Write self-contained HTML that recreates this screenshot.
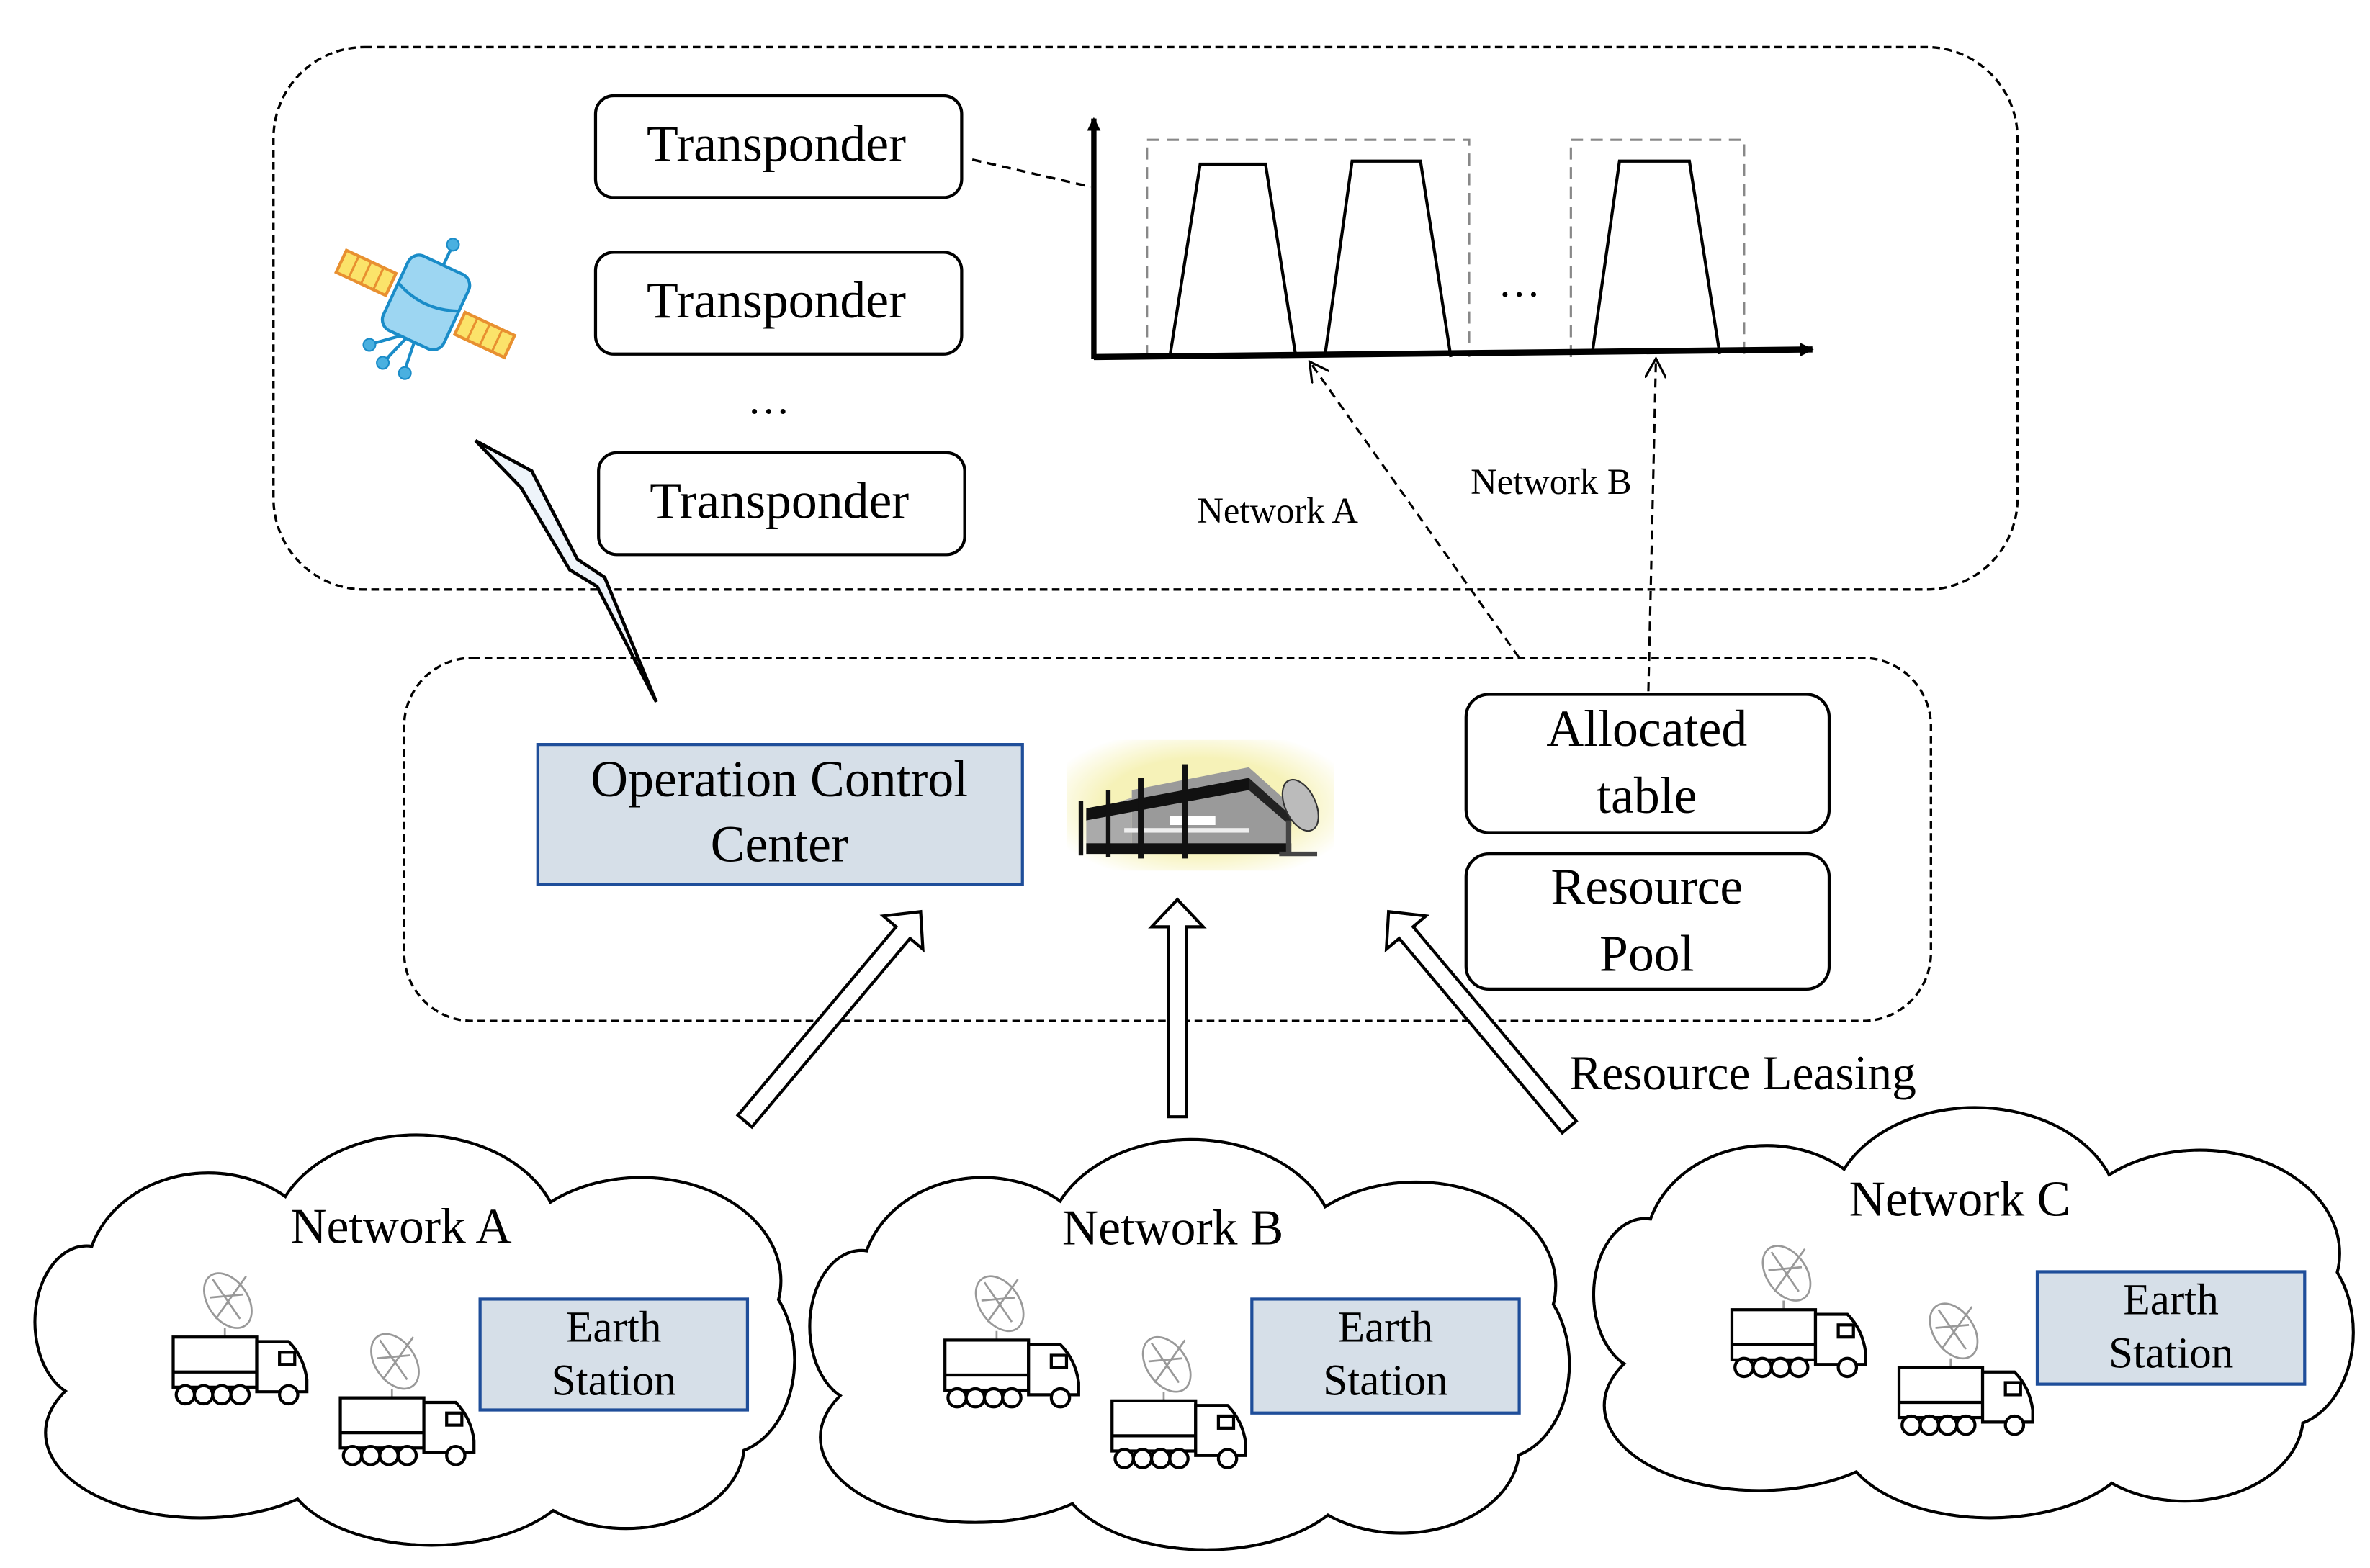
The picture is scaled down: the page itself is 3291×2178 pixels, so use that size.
<!DOCTYPE html>
<html><head><meta charset="utf-8"><style>
html,body{margin:0;padding:0;background:#fff;}
svg{display:block;}
text{font-family:"Liberation Serif",serif;fill:#000;}
</style></head><body>
<svg width="3291" height="2178" viewBox="0 0 1560 1032" preserveAspectRatio="none" xmlns="http://www.w3.org/2000/svg">
<defs>
<marker id="ah" viewBox="0 0 10 10" refX="9" refY="5" markerWidth="9" markerHeight="9" orient="auto" markerUnits="userSpaceOnUse">
<path d="M0,0 L10,5 L0,10 z" fill="#000"/></marker>
<marker id="oa" viewBox="0 0 12 12" refX="11" refY="6" markerWidth="14" markerHeight="14" orient="auto" markerUnits="userSpaceOnUse">
<path d="M0,0 L11,6 L0,12" fill="none" stroke="#000" stroke-width="1.3"/></marker>
<radialGradient id="glow" cx="0.5" cy="0.5" r="0.6"><stop offset="0.6" stop-color="#f6f2b8"/><stop offset="1" stop-color="#fff"/></radialGradient>
<g id="cloudS" fill="#fff" stroke="#000" stroke-width="2">
<ellipse cx="45" cy="125" rx="34" ry="50"/>
<ellipse cx="125" cy="95" rx="80" ry="68"/>
<ellipse cx="262" cy="72" rx="95" ry="70"/>
<ellipse cx="410" cy="98" rx="92" ry="68"/>
<ellipse cx="465" cy="150" rx="46" ry="62"/>
<ellipse cx="400" cy="205" rx="78" ry="56"/>
<ellipse cx="272" cy="218" rx="98" ry="54"/>
<ellipse cx="120" cy="198" rx="102" ry="56"/>
</g>
<g id="cloudF" fill="#fff" stroke="none">
<ellipse cx="45" cy="125" rx="33" ry="49"/>
<ellipse cx="125" cy="95" rx="79" ry="67"/>
<ellipse cx="262" cy="72" rx="94" ry="69"/>
<ellipse cx="410" cy="98" rx="91" ry="67"/>
<ellipse cx="465" cy="150" rx="45" ry="61"/>
<ellipse cx="400" cy="205" rx="77" ry="55"/>
<ellipse cx="272" cy="218" rx="97" ry="53"/>
<ellipse cx="120" cy="198" rx="101" ry="55"/>
<ellipse cx="260" cy="145" rx="210" ry="85"/>
</g>
<g id="truck">
<g fill="none" stroke="#999" stroke-width="1.3">
<ellipse cx="38" cy="18" rx="13" ry="20" transform="rotate(-35 38 18)"/>
<path d="M28,4 L46,30 M50,2 L30,30 M26,16 L48,14 M36,36 L36,42"/>
</g>
<g fill="#fff" stroke="#000" stroke-width="2">
<rect x="2" y="42" width="55" height="33"/>
<path d="M57,45 L78,45 Q88,55 90,70 L90,78 L57,78 z"/>
<rect x="72" y="52" width="10" height="8"/>
<line x1="2" y1="65" x2="57" y2="65"/>
<circle cx="10" cy="80" r="6"/><circle cx="22" cy="80" r="6"/><circle cx="34" cy="80" r="6"/><circle cx="46" cy="80" r="6"/><circle cx="78" cy="80" r="6"/>
</g></g>
</defs>

<rect x="180" y="31" width="1148" height="357" rx="60" fill="none" stroke="#000" stroke-width="1.6" stroke-dasharray="5,3"/>
<g fill="#fff" stroke="#000" stroke-width="2">
<rect x="392" y="63" width="241" height="67" rx="12"/>
<rect x="392" y="166" width="241" height="67" rx="12"/>
<rect x="394" y="298" width="241" height="67" rx="12"/>
</g>
<g font-size="34" text-anchor="middle">
<text x="511" y="106">Transponder</text>
<text x="511" y="209">Transponder</text>
<text x="513" y="341">Transponder</text>
</g>
<text x="506" y="272" font-size="28" text-anchor="middle">…</text>

<g transform="translate(280,200) rotate(25)">
<rect x="-62" y="-10" width="36" height="16" fill="#fbe36a" stroke="#e89030" stroke-width="2"/>
<path d="M-53,-10 v16 M-44,-10 v16 M-35,-10 v16" stroke="#e89030" stroke-width="1.5"/>
<rect x="26" y="-6" width="36" height="16" fill="#fbe36a" stroke="#e89030" stroke-width="2"/>
<path d="M35,-6 v16 M44,-6 v16 M53,-6 v16" stroke="#e89030" stroke-width="1.5"/>
<rect x="-22" y="-28" width="44" height="54" rx="8" fill="#9dd6f2" stroke="#1a8cc8" stroke-width="2"/>
<path d="M-22,-5 Q0,5 22,-5" fill="none" stroke="#1a8cc8" stroke-width="2"/>
<line x1="0" y1="-28" x2="0" y2="-40" stroke="#1a8cc8" stroke-width="2"/>
<circle cx="0" cy="-43" r="4" fill="#4ab0e0" stroke="#1a8cc8"/>
<path d="M-6,26 L-20,38 M-2,26 L-8,44 M4,26 L6,44" stroke="#1a8cc8" stroke-width="2"/>
<circle cx="-22" cy="40" r="4" fill="#4ab0e0" stroke="#1a8cc8"/><circle cx="-9" cy="47" r="4" fill="#4ab0e0" stroke="#1a8cc8"/><circle cx="7" cy="47" r="4" fill="#4ab0e0" stroke="#1a8cc8"/>
</g>

<path d="M313,290 L350,310 L380,368 L398,380 L432,462 L393,386 L375,375 L343,321 z" fill="#eef4fa" stroke="#000" stroke-width="2.2"/>

<line x1="640" y1="105" x2="718" y2="123" stroke="#000" stroke-width="1.6" stroke-dasharray="6,4"/>
<g fill="none" stroke="#888" stroke-width="1.5" stroke-dasharray="8,5">
<path d="M755,235 L755,92 L967,92 L967,235"/>
<path d="M1034,235 L1034,92 L1148,92 L1148,235"/>
</g>
<g fill="none" stroke="#000" stroke-width="2">
<path d="M770,235 L790,108 L833,108 L853,235"/>
<path d="M872,235 L890,106 L935,106 L955,235"/>
<path d="M1048,233 L1066,106 L1112,106 L1132,233"/>
</g>
<line x1="720" y1="236" x2="720" y2="78" stroke="#000" stroke-width="3.5" marker-end="url(#ah)"/>
<line x1="720" y1="235" x2="1193" y2="230" stroke="#000" stroke-width="4" marker-end="url(#ah)"/>
<text x="1000" y="195" font-size="28" text-anchor="middle">…</text>

<line x1="1000" y1="433" x2="862" y2="238" stroke="#000" stroke-width="1.5" stroke-dasharray="6,4" marker-end="url(#oa)"/>
<line x1="1085" y1="455" x2="1090" y2="236" stroke="#000" stroke-width="1.5" stroke-dasharray="6,4" marker-end="url(#oa)"/>
<text x="788" y="344" font-size="24">Network A</text>
<text x="968" y="325" font-size="24">Network B</text>

<rect x="266" y="433" width="1005" height="239" rx="45" fill="none" stroke="#000" stroke-width="1.6" stroke-dasharray="5,3"/>
<rect x="354" y="490" width="319" height="92" fill="#d6dfe8" stroke="#1f4e9a" stroke-width="2"/>
<text x="513" y="524" font-size="34" text-anchor="middle">Operation Control</text>
<text x="513" y="567" font-size="34" text-anchor="middle">Center</text>

<!-- building -->
<rect x="702" y="487" width="176" height="86" fill="url(#glow)"/>
<path d="M745,520 L822,505 L850,530 L850,562 L745,562 z" fill="#9a9a9a"/>
<path d="M715,535 L745,525 L745,562 L715,562 z" fill="#aaa"/>
<path d="M715,532 L822,512 L822,520 L715,540 z" fill="#111"/>
<path d="M822,512 L850,537 L850,544 L822,520 z" fill="#222"/>
<rect x="715" y="555" width="135" height="7" fill="#111"/>
<path d="M770,543 h30 v-6 h-30 z" fill="#fff"/>
<rect x="740" y="545" width="82" height="3" fill="#eee"/>
<rect x="710" y="527" width="3" height="36" fill="#111"/>
<rect x="728" y="520" width="3" height="44" fill="#111"/>
<rect x="749" y="512" width="4" height="53" fill="#111"/>
<rect x="778" y="503" width="4" height="62" fill="#111"/>
<ellipse cx="856" cy="530" rx="10" ry="18" fill="#bbb" stroke="#333" transform="rotate(-25 856 530)"/>
<path d="M848,540 v22 M842,562 h25" stroke="#444" stroke-width="3"/>

<rect x="965" y="457" width="239" height="91" rx="15" fill="#fff" stroke="#000" stroke-width="2"/>
<rect x="965" y="562" width="239" height="89" rx="15" fill="#fff" stroke="#000" stroke-width="2"/>
<g font-size="34" text-anchor="middle">
<text x="1084" y="491">Allocated</text>
<text x="1084" y="535">table</text>
<text x="1084" y="595">Resource</text>
<text x="1084" y="639">Pool</text>
</g>

<g fill="#fff" stroke="#000" stroke-width="2">
<g transform="translate(775,592)"><path d="M0,0 L17,18 L6,18 L6,143 L-6,143 L-6,18 L-17,18 z"/></g>
<g transform="translate(606,600) rotate(40)"><path d="M0,0 L17,18 L6,18 L6,180 L-6,180 L-6,18 L-17,18 z"/></g>
<g transform="translate(914,600) rotate(-40)"><path d="M0,0 L17,18 L6,18 L6,185 L-6,185 L-6,18 L-17,18 z"/></g>
</g>
<text x="1033" y="717" font-size="32">Resource Leasing</text>

<g transform="translate(12,745)"><use href="#cloudS"/><use href="#cloudF"/></g>
<g transform="translate(522,748)"><use href="#cloudS"/><use href="#cloudF"/></g>
<g transform="translate(1038,727)"><use href="#cloudS"/><use href="#cloudF"/></g>

<g font-size="33" text-anchor="middle">
<text x="264" y="818">Network A</text>
<text x="772" y="819">Network B</text>
<text x="1290" y="800">Network C</text>
</g>

<use href="#truck" transform="translate(112,838)"/>
<use href="#truck" transform="translate(222,878)"/>
<use href="#truck" transform="translate(620,840)"/>
<use href="#truck" transform="translate(730,880)"/>
<use href="#truck" transform="translate(1138,820)"/>
<use href="#truck" transform="translate(1248,858)"/>

<g fill="#d6dfe8" stroke="#1f4e9a" stroke-width="2">
<rect x="316" y="855" width="176" height="73"/>
<rect x="824" y="855" width="176" height="75"/>
<rect x="1341" y="837" width="176" height="74"/>
</g>
<g font-size="29" text-anchor="middle">
<text x="404" y="883">Earth</text><text x="404" y="918">Station</text>
<text x="912" y="883">Earth</text><text x="912" y="918">Station</text>
<text x="1429" y="865">Earth</text><text x="1429" y="900">Station</text>
</g>
</svg>
</body></html>
